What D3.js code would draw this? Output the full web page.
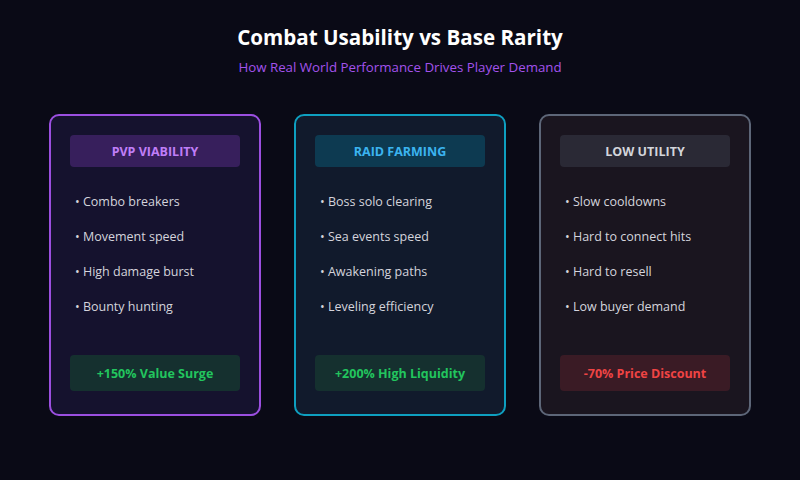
<!DOCTYPE html>
<html lang="en">
<head>
<meta charset="utf-8">
<title>Combat Usability vs Base Rarity</title>
<script src="https://d3js.org/d3.v7.min.js"></script>
<style>
	html, body { margin: 0; padding: 0; background: #0a0a16; }
	svg { display: block; font-family: "Open Sans", "Noto Sans", sans-serif; }
</style>
</head>
<body>
<div id="chart"></div>
<script>
	// card data
	var categories = ["PVP VIABILITY", "RAID FARMING", "LOW UTILITY"];
	var bullets = [
		["Combo breakers", "Movement speed", "High damage burst", "Bounty hunting"],
		["Boss solo clearing", "Sea events speed", "Awakening paths", "Leveling efficiency"],
		["Slow cooldowns", "Hard to connect hits", "Hard to resell", "Low buyer demand"]
	];
	var impacts = ["+150% Value Surge", "+200% High Liquidity", "-70% Price Discount"];

	// colours per card
	var cardStroke = ["#9b4fe0", "#0e9fc0", "#5d6678"];
	var cardFill = ["#15122e", "#111a2c", "#1a151f"];
	var headFill = ["#371f5c", "#0d3a51", "#2a2935"];
	var headText = ["#c07ef8", "#3bb4f0", "#d3d5db"];
	var footFill = ["#15302f", "#15302f", "#3a1b25"];
	var footText = ["#22c55e", "#22c55e", "#ef4444"];

	var width = 800, height = 480;

	var svg = d3.select("#chart").append("svg")
		.attr("width", width)
		.attr("height", height);

	svg.append("rect")
		.attr("width", width)
		.attr("height", height)
		.attr("fill", "#0a0a16");

	svg.append("text")
		.attr("x", width / 2)
		.attr("y", 45)
		.attr("text-anchor", "middle")
		.attr("font-size", 20.6)
		.attr("font-weight", "bold")
		.attr("fill", "#ffffff")
		.text("Combat Usability vs Base Rarity");

	svg.append("text")
		.attr("x", width / 2)
		.attr("y", 72)
		.attr("text-anchor", "middle")
		.attr("font-size", 13.3)
		.attr("fill", "#a352ec")
		.text("How Real World Performance Drives Player Demand");

	var x = d3.scaleBand()
		.domain(categories)
		.range([50, 750])
		.paddingInner(35 / 245);

	var y = d3.scaleLinear()
		.domain([0, 3])
		.range([201, 306]);

	var cards = svg.selectAll("g.card")
		.data(categories)
		.enter()
		.append("g")
		.attr("class", "card")
		.attr("transform", function(d){ return "translate(" + x(d) + ",0)"; });

	var bw = x.bandwidth();

	cards.append("rect")
		.attr("x", 0)
		.attr("y", 115)
		.attr("width", bw)
		.attr("height", 300)
		.attr("rx", 9)
		.attr("fill", function(d, i){ return cardFill[i]; })
		.attr("stroke", function(d, i){ return cardStroke[i]; })
		.attr("stroke-width", 2);

	cards.append("rect")
		.attr("x", 20)
		.attr("y", 135)
		.attr("width", bw - 40)
		.attr("height", 32)
		.attr("rx", 4)
		.attr("fill", function(d, i){ return headFill[i]; });

	cards.append("text")
		.attr("x", bw / 2)
		.attr("y", 152)
		.attr("dy", "0.35em")
		.attr("text-anchor", "middle")
		.attr("font-size", 12.5)
		.attr("font-weight", "bold")
		.attr("fill", function(d, i){ return headText[i]; })
		.text(function(d){ return d; });

	cards.each(function(d, i){
		d3.select(this).selectAll("text.item")
			.data(bullets[i])
			.enter()
			.append("text")
			.attr("class", "item")
			.attr("x", 25)
			.attr("y", function(b, j){ return y(j) + 1; })
			.attr("dy", "0.35em")
			.attr("font-size", 12.5)
			.attr("fill", "#d4d4dc")
			.text(function(b){ return "\u2022 " + b; });
	});

	cards.append("rect")
		.attr("x", 20)
		.attr("y", 355)
		.attr("width", bw - 40)
		.attr("height", 36)
		.attr("rx", 4)
		.attr("fill", function(d, i){ return footFill[i]; });

	cards.append("text")
		.attr("x", bw / 2)
		.attr("y", 374)
		.attr("dy", "0.35em")
		.attr("text-anchor", "middle")
		.attr("font-size", 12.5)
		.attr("font-weight", "bold")
		.attr("fill", function(d, i){ return footText[i]; })
		.text(function(d, i){ return impacts[i]; });
</script>
</body>
</html>
